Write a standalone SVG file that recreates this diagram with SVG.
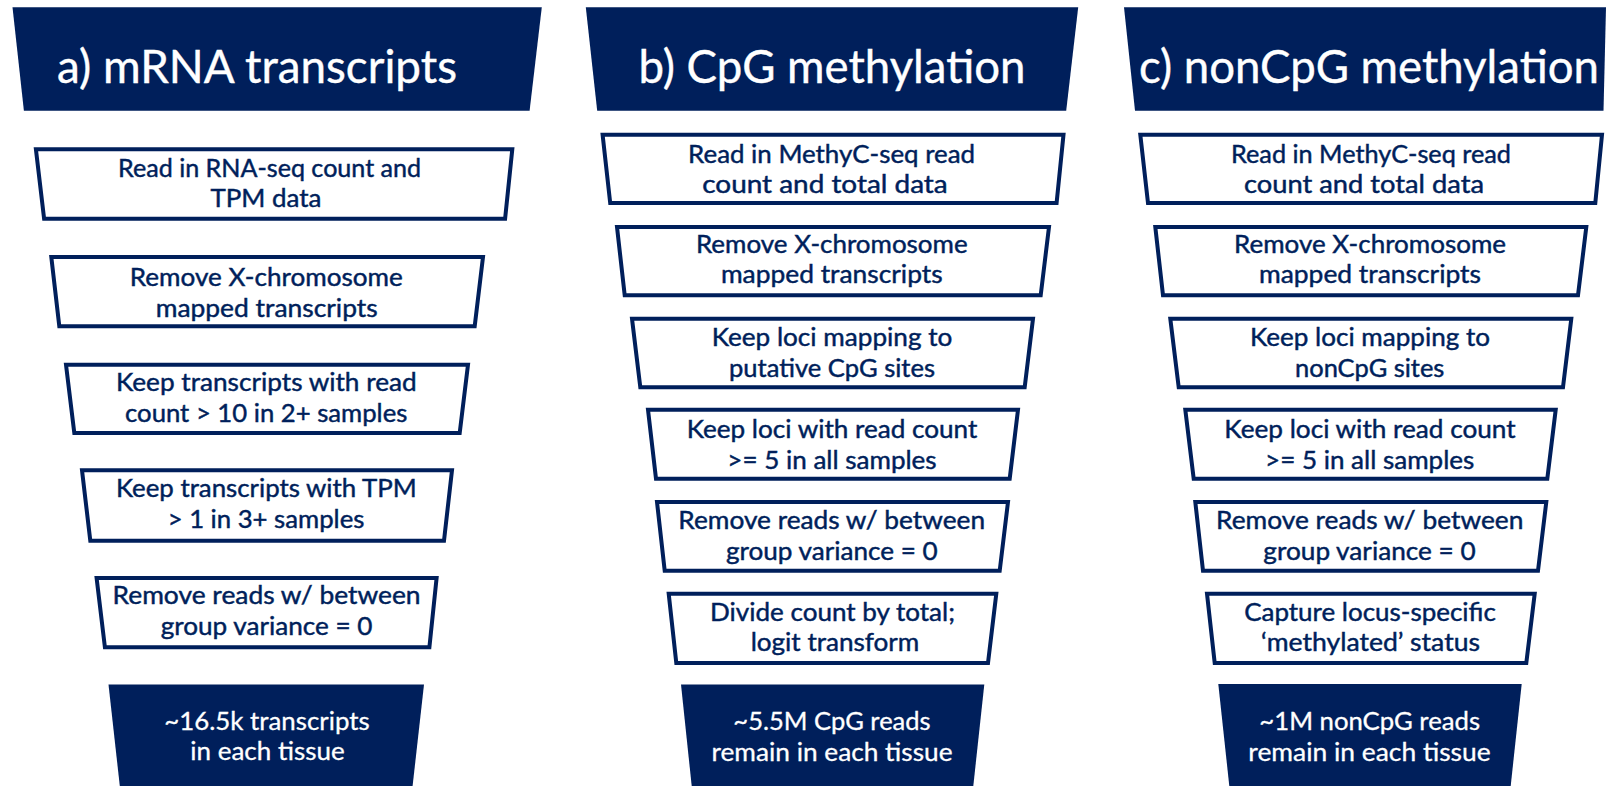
<svg xmlns="http://www.w3.org/2000/svg" width="1610" height="786" viewBox="0 0 1610 786">
<style>
.hdr{fill:#001F5B;stroke:none}
.box{fill:#FFFFFF;stroke:#001F5B;stroke-width:4;stroke-linejoin:miter}
.ht{font-family:Lato,"Open Sans","Liberation Sans",sans-serif;font-size:46px;fill:#FFFFFF;stroke:#FFFFFF;stroke-width:0.4;text-anchor:middle}
.bt{font-family:Lato,"Open Sans","Liberation Sans",sans-serif;font-size:25px;fill:#001F5B;stroke:#001F5B;stroke-width:0.45;text-anchor:middle}
.ft{font-family:Lato,"Open Sans","Liberation Sans",sans-serif;font-size:25px;fill:#FFFFFF;stroke:#FFFFFF;stroke-width:0.3;text-anchor:middle}
</style>
<rect x="0" y="0" width="1610" height="786" fill="#FFFFFF"/>
<g id="connectors"/>

<!-- Column a -->
<g id="header-a">
<polygon class="hdr" points="12.5,7.3 541.8,7.3 529.6,110.7 23.9,110.7"/>
<text class="ht" x="257" y="83.3" textLength="400" lengthAdjust="spacingAndGlyphs">a) mRNA transcripts</text>
</g>
<g id="a1">
<polygon class="box" points="35.9,149.3 512.3,149.3 505.1,218.7 44.1,218.7"/>
<text class="bt" x="269.6" y="176.7" textLength="303" lengthAdjust="spacingAndGlyphs">Read in RNA-seq count and</text>
<text class="bt" x="266" y="206.7" textLength="111" lengthAdjust="spacingAndGlyphs">TPM data</text>
</g>
<g id="a2">
<polygon class="box" points="51.3,257 483,257 474.7,326.3 59.3,326.3"/>
<text class="bt" x="266.3" y="285.7" textLength="273" lengthAdjust="spacingAndGlyphs">Remove X-chromosome</text>
<text class="bt" x="266.7" y="316.7" textLength="222" lengthAdjust="spacingAndGlyphs">mapped transcripts</text>
</g>
<g id="a3">
<polygon class="box" points="66,364.7 468,364.7 459.7,433 74.3,433"/>
<text class="bt" x="266.3" y="390.7" textLength="300.7" lengthAdjust="spacingAndGlyphs">Keep transcripts with read</text>
<text class="bt" x="266.2" y="421.7" textLength="282.3" lengthAdjust="spacingAndGlyphs">count &gt; 10 in 2+ samples</text>
</g>
<g id="a4">
<polygon class="box" points="82,470.3 452,470.3 444,540.7 90.3,540.7"/>
<text class="bt" x="266.3" y="497.3" textLength="300.7" lengthAdjust="spacingAndGlyphs">Keep transcripts with TPM</text>
<text class="bt" x="266" y="528.3" textLength="196.7" lengthAdjust="spacingAndGlyphs">&gt; 1 in 3+ samples</text>
</g>
<g id="a5">
<polygon class="box" points="96.6,578 436.6,578 429.4,647.3 104.9,647.3"/>
<text class="bt" x="266.6" y="604.3" textLength="308" lengthAdjust="spacingAndGlyphs">Remove reads w/ between</text>
<text class="bt" x="266.6" y="635" textLength="211.8" lengthAdjust="spacingAndGlyphs">group variance = 0</text>
</g>
<g id="a-result">
<polygon class="hdr" points="108.5,684.5 424,684.5 412.6,786 119.8,786"/>
<text class="ft" x="267" y="730" textLength="205.3" lengthAdjust="spacingAndGlyphs">~16.5k transcripts</text>
<text class="ft" x="267.5" y="760" textLength="154.3" lengthAdjust="spacingAndGlyphs">in each tissue</text>
</g>

<!-- Column b -->
<g id="header-b">
<polygon class="hdr" points="585.8,7.3 1078.2,7.3 1066.2,110.7 597.2,110.7"/>
<text class="ht" x="832" y="83.3" textLength="387" lengthAdjust="spacingAndGlyphs">b) CpG methylation</text>
</g>
<g id="b1">
<polygon class="box" points="602.6,134.7 1063.5,134.7 1056.6,203 610.2,203"/>
<text class="bt" x="831.6" y="162.7" textLength="287" lengthAdjust="spacingAndGlyphs">Read in MethyC-seq read</text>
<text class="bt" x="825" y="193.3" textLength="245.5" lengthAdjust="spacingAndGlyphs">count and total data</text>
</g>
<g id="b2">
<polygon class="box" points="617,227 1049,227 1040.7,295.3 624.7,295.3"/>
<text class="bt" x="831.8" y="252.7" textLength="271.7" lengthAdjust="spacingAndGlyphs">Remove X-chromosome</text>
<text class="bt" x="831.8" y="283.3" textLength="221.7" lengthAdjust="spacingAndGlyphs">mapped transcripts</text>
</g>
<g id="b3">
<polygon class="box" points="632,318.7 1033,318.7 1024.7,387.3 640.3,387.3"/>
<text class="bt" x="832" y="346" textLength="240.7" lengthAdjust="spacingAndGlyphs">Keep loci mapping to</text>
<text class="bt" x="832" y="376.7" textLength="206" lengthAdjust="spacingAndGlyphs">putative CpG sites</text>
</g>
<g id="b4">
<polygon class="box" points="648,409.7 1018,409.7 1009.7,478.7 656,478.7"/>
<text class="bt" x="832" y="438.3" textLength="290.7" lengthAdjust="spacingAndGlyphs">Keep loci with read count</text>
<text class="bt" x="832" y="469.3" textLength="209.3" lengthAdjust="spacingAndGlyphs">&gt;= 5 in all samples</text>
</g>
<g id="b5">
<polygon class="box" points="657,502 1008,502 999.7,570.7 664.7,570.7"/>
<text class="bt" x="831.7" y="529.3" textLength="306.7" lengthAdjust="spacingAndGlyphs">Remove reads w/ between</text>
<text class="bt" x="831.8" y="560" textLength="211.7" lengthAdjust="spacingAndGlyphs">group variance = 0</text>
</g>
<g id="b6">
<polygon class="box" points="668.7,593.7 996.3,593.7 988,663 676.3,663"/>
<text class="bt" x="832.5" y="620.7" textLength="245" lengthAdjust="spacingAndGlyphs">Divide count by total;</text>
<text class="bt" x="835" y="650.7" textLength="168.7" lengthAdjust="spacingAndGlyphs">logit transform</text>
</g>
<g id="b-result">
<polygon class="hdr" points="681,684.5 984.3,684.5 973.3,786 691.7,786"/>
<text class="ft" x="832" y="730" textLength="197.3" lengthAdjust="spacingAndGlyphs">~5.5M CpG reads</text>
<text class="ft" x="832" y="761" textLength="241" lengthAdjust="spacingAndGlyphs">remain in each tissue</text>
</g>

<!-- Column c -->
<g id="header-c">
<polygon class="hdr" points="1124,7.3 1606,7.3 1603.5,110.7 1135,110.7"/>
<text class="ht" x="1369" y="83.3" textLength="460" lengthAdjust="spacingAndGlyphs">c) nonCpG methylation</text>
</g>
<g id="c1">
<polygon class="box" points="1140.3,134.7 1602,134.7 1595.3,203 1148,203"/>
<text class="bt" x="1371" y="162.7" textLength="280" lengthAdjust="spacingAndGlyphs">Read in MethyC-seq read</text>
<text class="bt" x="1364" y="193.3" textLength="240" lengthAdjust="spacingAndGlyphs">count and total data</text>
</g>
<g id="c2">
<polygon class="box" points="1155.3,227 1586.3,227 1578,295.3 1163,295.3"/>
<text class="bt" x="1370" y="252.7" textLength="272" lengthAdjust="spacingAndGlyphs">Remove X-chromosome</text>
<text class="bt" x="1370" y="283.3" textLength="222" lengthAdjust="spacingAndGlyphs">mapped transcripts</text>
</g>
<g id="c3">
<polygon class="box" points="1170.3,318.7 1571.3,318.7 1563,387.3 1178.7,387.3"/>
<text class="bt" x="1370" y="346" textLength="240" lengthAdjust="spacingAndGlyphs">Keep loci mapping to</text>
<text class="bt" x="1369.7" y="376.7" textLength="149.3" lengthAdjust="spacingAndGlyphs">nonCpG sites</text>
</g>
<g id="c4">
<polygon class="box" points="1185.3,409.7 1555.7,409.7 1547.3,478.7 1193.7,478.7"/>
<text class="bt" x="1370" y="438.3" textLength="291.3" lengthAdjust="spacingAndGlyphs">Keep loci with read count</text>
<text class="bt" x="1369.7" y="469.3" textLength="209.3" lengthAdjust="spacingAndGlyphs">&gt;= 5 in all samples</text>
</g>
<g id="c5">
<polygon class="box" points="1195.3,502 1546.3,502 1538,570.7 1203,570.7"/>
<text class="bt" x="1369.7" y="529.3" textLength="307.3" lengthAdjust="spacingAndGlyphs">Remove reads w/ between</text>
<text class="bt" x="1369.5" y="560" textLength="212.3" lengthAdjust="spacingAndGlyphs">group variance = 0</text>
</g>
<g id="c6">
<polygon class="box" points="1207,593.7 1534.7,593.7 1526.3,663 1214.7,663"/>
<text class="bt" x="1370" y="620.7" textLength="251.7" lengthAdjust="spacingAndGlyphs">Capture locus-specific</text>
<text class="bt" x="1370.5" y="650.7" textLength="219" lengthAdjust="spacingAndGlyphs">‘methylated’ status</text>
</g>
<g id="c-result">
<polygon class="hdr" points="1218.3,684 1521.7,684 1510.7,786 1229.3,786"/>
<text class="ft" x="1369.7" y="730" textLength="220.7" lengthAdjust="spacingAndGlyphs">~1M nonCpG reads</text>
<text class="ft" x="1369.5" y="761" textLength="242.3" lengthAdjust="spacingAndGlyphs">remain in each tissue</text>
</g>
</svg>
